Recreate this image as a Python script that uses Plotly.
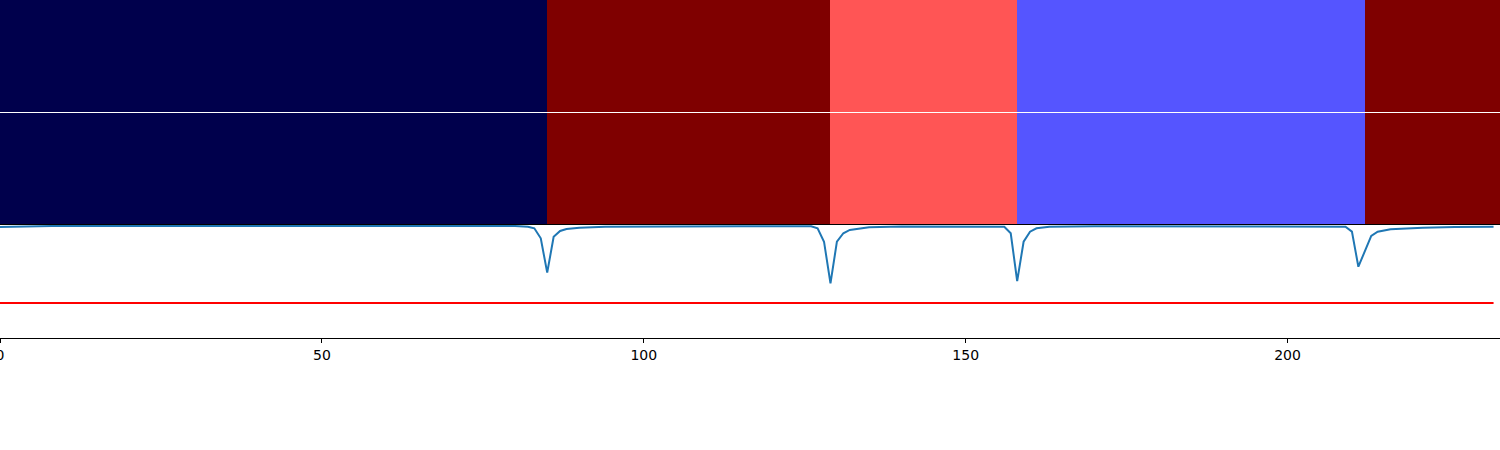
import plotly.graph_objects as go

# ---- data ----
segment_edges = [0, 85, 129, 158, 212, 233]
row_a_values = [0.0, 1.0, 0.667, 0.333, 1.0]
row_b_values = [0.0, 1.0, 0.667, 0.333, 1.0]
row_edges = [0, 1, 2]

line_x = [0, 4, 8, 30, 60, 80, 82, 83, 84, 85, 86, 87, 88, 90, 94, 100, 115,
          126, 127, 128, 129, 130, 131, 132, 135, 140, 150,
          156, 157, 158, 159, 160, 161, 163, 170, 190,
          208, 209, 210, 211, 213, 214, 216, 218, 221, 226, 232]
line_y = [0.982, 0.988, 0.991, 0.992, 0.992, 0.991, 0.985, 0.971, 0.882, 0.578, 0.896, 0.947, 0.965, 0.976, 0.984, 0.987, 0.989,
          0.989, 0.971, 0.852, 0.484, 0.852, 0.927, 0.956, 0.980, 0.986, 0.989,
          0.985, 0.927, 0.504, 0.852, 0.941, 0.971, 0.985, 0.989, 0.990,
          0.990, 0.985, 0.941, 0.631, 0.903, 0.941, 0.962, 0.970, 0.976, 0.982, 0.984]
threshold_x = [0, 232]
threshold_y = [0.310, 0.310]

x_ticks = [0, 50, 100, 150, 200]

seismic_scale = [[0.0, "#00004C"], [0.333, "#5555FF"], [0.667, "#FF5555"], [1.0, "#7F0000"]]

fig = go.Figure()

fig.add_trace(go.Heatmap(
    z=[row_a_values, row_b_values],
    x=segment_edges, y=row_edges,
    colorscale=seismic_scale, zmin=0, zmax=1,
    showscale=False, ygap=1, hoverinfo="skip",
    xaxis="x2", yaxis="y2",
))

fig.add_trace(go.Scatter(
    x=line_x, y=line_y, mode="lines",
    line=dict(color="#1f77b4", width=2),
    showlegend=False, xaxis="x", yaxis="y",
))
fig.add_trace(go.Scatter(
    x=threshold_x, y=threshold_y, mode="lines",
    line=dict(color="red", width=2),
    showlegend=False, xaxis="x", yaxis="y",
))

split = 113 / 338

fig.update_layout(
    width=1500, height=450,
    margin=dict(l=0, r=0, t=0, b=112, pad=0, autoexpand=False),
    paper_bgcolor="white", plot_bgcolor="white",
    font=dict(family="DejaVu Sans", size=14, color="black"),
    showlegend=False,
    xaxis=dict(domain=[0, 1], range=[0, 233], tickvals=x_ticks,
               ticks="outside", ticklen=4, tickcolor="black", tickwidth=1,
               showgrid=False, zeroline=False, showline=True, linecolor="black",
               linewidth=1, mirror=True, ticklabeloverflow="allow", anchor="y",
               automargin=False),
    yaxis=dict(domain=[0, split], range=[0, 1], showticklabels=False,
               ticks="", showgrid=False, zeroline=False, showline=True,
               linecolor="black", linewidth=1, mirror=True, anchor="x",
               automargin=False),
    xaxis2=dict(domain=[0, 1], range=[0, 233], showticklabels=False, ticks="",
                showgrid=False, zeroline=False, showline=False, anchor="y2",
                automargin=False),
    yaxis2=dict(domain=[split, 1], range=[0, 2], showticklabels=False, ticks="",
                showgrid=False, zeroline=False, showline=False, anchor="x2",
                automargin=False),
)

fig.write_html("out.html", config={"displayModeBar": False},
               post_script="document.body.style.margin='0';document.body.style.overflow='hidden';")
